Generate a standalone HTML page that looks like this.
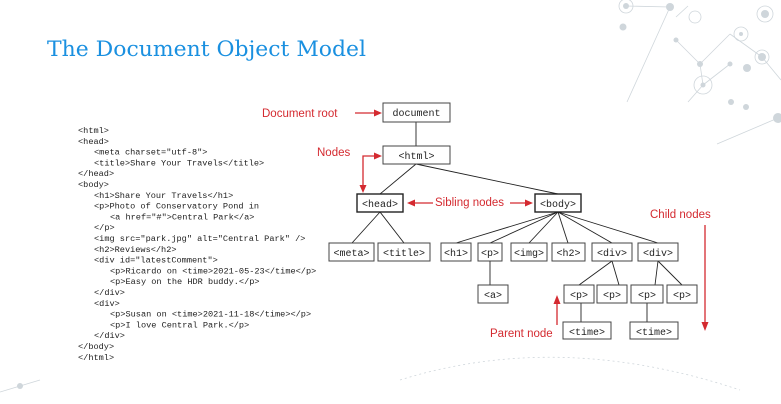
<!DOCTYPE html>
<html><head><meta charset="utf-8"><style>
html,body{margin:0;padding:0;background:#fff;}
svg{display:block;}
.c{font-family:"Liberation Mono",monospace;font-size:8.6px;fill:#222;}
.n{font-family:"Liberation Mono",monospace;font-size:10px;fill:#222;}
.l{font-family:"Liberation Sans",sans-serif;font-size:11.5px;fill:#d42a30;}
</style></head><body>
<svg width="781" height="404" viewBox="0 0 781 404" xmlns="http://www.w3.org/2000/svg">
<g stroke="#cfd6db" stroke-width="0.8" fill="none">
<line x1="670" y1="7" x2="627" y2="102"/>
<line x1="676" y1="17" x2="688" y2="6"/>
<line x1="676" y1="40" x2="700" y2="64"/>
<line x1="700" y1="64" x2="730" y2="34"/>
<line x1="700" y1="64" x2="703" y2="85"/>
<line x1="703" y1="85" x2="688" y2="102"/>
<line x1="703" y1="85" x2="730" y2="64"/>
<line x1="730" y1="34" x2="762" y2="57"/>
<line x1="762" y1="57" x2="781" y2="80"/>
<line x1="717" y1="144" x2="778" y2="118"/>
<line x1="626" y1="6" x2="670" y2="7"/>
<circle cx="695" cy="17" r="6"/><circle cx="741" cy="34" r="7"/><circle cx="765" cy="14" r="8"/><circle cx="762" cy="57" r="7"/><circle cx="703" cy="85" r="9"/><circle cx="626" cy="6" r="7"/>
<path d="M400 380 Q560 330 740 390" stroke-dasharray="2 3"/>
<line x1="0" y1="392" x2="40" y2="380"/>
</g>
<g fill="#cfd6db">
<circle cx="626" cy="6" r="3"/><circle cx="670" cy="7" r="4"/><circle cx="623" cy="27" r="3.5"/><circle cx="676" cy="40" r="2.5"/><circle cx="700" cy="64" r="3"/><circle cx="730" cy="64" r="2.5"/><circle cx="741" cy="34" r="2"/><circle cx="747" cy="68" r="4"/><circle cx="762" cy="57" r="4"/><circle cx="765" cy="14" r="4"/><circle cx="703" cy="85" r="2.5"/><circle cx="731" cy="102" r="3"/><circle cx="746" cy="107" r="3"/><circle cx="778" cy="118" r="5"/><circle cx="20" cy="386" r="3"/>
</g>

<text x="47" y="56" font-family="DejaVu Serif,serif" font-size="21" fill="#1a90e0" textLength="319" lengthAdjust="spacingAndGlyphs">The Document Object Model</text>

<g class="c">
<text x="78" y="133">&lt;html&gt;</text>
<text x="78" y="143.8">&lt;head&gt;</text>
<text x="94" y="154.6">&lt;meta charset="utf-8"&gt;</text>
<text x="94" y="165.4">&lt;title&gt;Share Your Travels&lt;/title&gt;</text>
<text x="78" y="176.2">&lt;/head&gt;</text>
<text x="78" y="187">&lt;body&gt;</text>
<text x="94" y="197.8">&lt;h1&gt;Share Your Travels&lt;/h1&gt;</text>
<text x="94" y="208.6">&lt;p&gt;Photo of Conservatory Pond in</text>
<text x="110" y="219.4">&lt;a href="#"&gt;Central Park&lt;/a&gt;</text>
<text x="94" y="230.2">&lt;/p&gt;</text>
<text x="94" y="241">&lt;img src="park.jpg" alt="Central Park" /&gt;</text>
<text x="94" y="251.8">&lt;h2&gt;Reviews&lt;/h2&gt;</text>
<text x="94" y="262.6">&lt;div id="latestComment"&gt;</text>
<text x="110" y="273.4">&lt;p&gt;Ricardo on &lt;time&gt;2021-05-23&lt;/time&lt;/p&gt;</text>
<text x="110" y="284.2">&lt;p&gt;Easy on the HDR buddy.&lt;/p&gt;</text>
<text x="94" y="295">&lt;/div&gt;</text>
<text x="94" y="305.8">&lt;div&gt;</text>
<text x="110" y="316.6">&lt;p&gt;Susan on &lt;time&gt;2021-11-18&lt;/time&gt;&lt;/p&gt;</text>
<text x="110" y="327.4">&lt;p&gt;I love Central Park.&lt;/p&gt;</text>
<text x="94" y="338.2">&lt;/div&gt;</text>
<text x="78" y="349">&lt;/body&gt;</text>
<text x="78" y="359.8">&lt;/html&gt;</text>
</g>

<g stroke="#222" stroke-width="0.9" fill="none">
<line x1="416" y1="122" x2="416" y2="146"/>
<line x1="416" y1="164" x2="380" y2="194"/>
<line x1="416" y1="164" x2="558" y2="194"/>
<line x1="380" y1="212" x2="352" y2="243"/>
<line x1="380" y1="212" x2="404" y2="243"/>
<line x1="558" y1="212" x2="456" y2="243"/>
<line x1="558" y1="212" x2="490" y2="243"/>
<line x1="558" y1="212" x2="529" y2="243"/>
<line x1="558" y1="212" x2="568" y2="243"/>
<line x1="558" y1="212" x2="612" y2="243"/>
<line x1="558" y1="212" x2="658" y2="243"/>
<line x1="490" y1="261" x2="490" y2="285"/>
<line x1="612" y1="261" x2="579" y2="285"/>
<line x1="612" y1="261" x2="619" y2="285"/>
<line x1="658" y1="261" x2="655" y2="285"/>
<line x1="658" y1="261" x2="682" y2="285"/>
<line x1="581" y1="303" x2="581" y2="322"/>
<line x1="647" y1="303" x2="647" y2="322"/>
</g>
<g stroke="#444" stroke-width="1" fill="#fff">
<rect x="383" y="103" width="67" height="19"/>
<rect x="383" y="146" width="67" height="18"/>
<rect x="357" y="194" width="46" height="18" stroke-width="1.4" stroke="#222"/>
<rect x="535" y="194" width="46" height="18" stroke-width="1.4" stroke="#222"/>
<rect x="329" y="243" width="45" height="18"/>
<rect x="378" y="243" width="52" height="18"/>
<rect x="441" y="243" width="30" height="18"/>
<rect x="478" y="243" width="24" height="18"/>
<rect x="511" y="243" width="36" height="18"/>
<rect x="552" y="243" width="33" height="18"/>
<rect x="592" y="243" width="40" height="18"/>
<rect x="638" y="243" width="40" height="18"/>
<rect x="478" y="285" width="30" height="18"/>
<rect x="564" y="285" width="30" height="18"/>
<rect x="597" y="285" width="30" height="18"/>
<rect x="631" y="285" width="32" height="18"/>
<rect x="667" y="285" width="30" height="18"/>
<rect x="563" y="322" width="48" height="17"/>
<rect x="630" y="322" width="48" height="17"/>
</g>
<g class="n" text-anchor="middle">
<text x="416.5" y="116">document</text>
<text x="416.5" y="159">&lt;html&gt;</text>
<text x="380" y="207">&lt;head&gt;</text>
<text x="558" y="207">&lt;body&gt;</text>
<text x="351.5" y="256">&lt;meta&gt;</text>
<text x="404" y="256">&lt;title&gt;</text>
<text x="456" y="256">&lt;h1&gt;</text>
<text x="490" y="256">&lt;p&gt;</text>
<text x="529" y="256">&lt;img&gt;</text>
<text x="568.5" y="256">&lt;h2&gt;</text>
<text x="612" y="256">&lt;div&gt;</text>
<text x="658" y="256">&lt;div&gt;</text>
<text x="493" y="298">&lt;a&gt;</text>
<text x="579" y="298">&lt;p&gt;</text>
<text x="612" y="298">&lt;p&gt;</text>
<text x="647" y="298">&lt;p&gt;</text>
<text x="682" y="298">&lt;p&gt;</text>
<text x="587" y="335">&lt;time&gt;</text>
<text x="654" y="335">&lt;time&gt;</text>
</g>

<g class="l">
<text x="262" y="117">Document root</text>
<text x="317" y="156">Nodes</text>
<text x="435" y="206">Sibling nodes</text>
<text x="650" y="218">Child nodes</text>
<text x="490" y="337">Parent node</text>
</g>
<g stroke="#d42a30" stroke-width="1.3" fill="#d42a30">
<line x1="355" y1="113" x2="376" y2="113"/><polygon points="382,113 374,109.5 374,116.5" stroke="none"/>
<polyline points="363,187 363,156 376,156" fill="none"/><polygon points="382,156 374,152.5 374,159.5" stroke="none"/><polygon points="363,193 359.5,185 366.5,185" stroke="none"/>
<line x1="413" y1="203" x2="433" y2="203"/><polygon points="407,203 415,199.5 415,206.5" stroke="none"/>
<line x1="510" y1="203" x2="527" y2="203"/><polygon points="533,203 525,199.5 525,206.5" stroke="none"/>
<line x1="705" y1="225" x2="705" y2="324"/><polygon points="705,331 701.5,322 708.5,322" stroke="none"/>
<line x1="557" y1="325" x2="557" y2="302"/><polygon points="557,295 553.5,304 560.5,304" stroke="none"/>
</g>
</svg>
</body></html>
